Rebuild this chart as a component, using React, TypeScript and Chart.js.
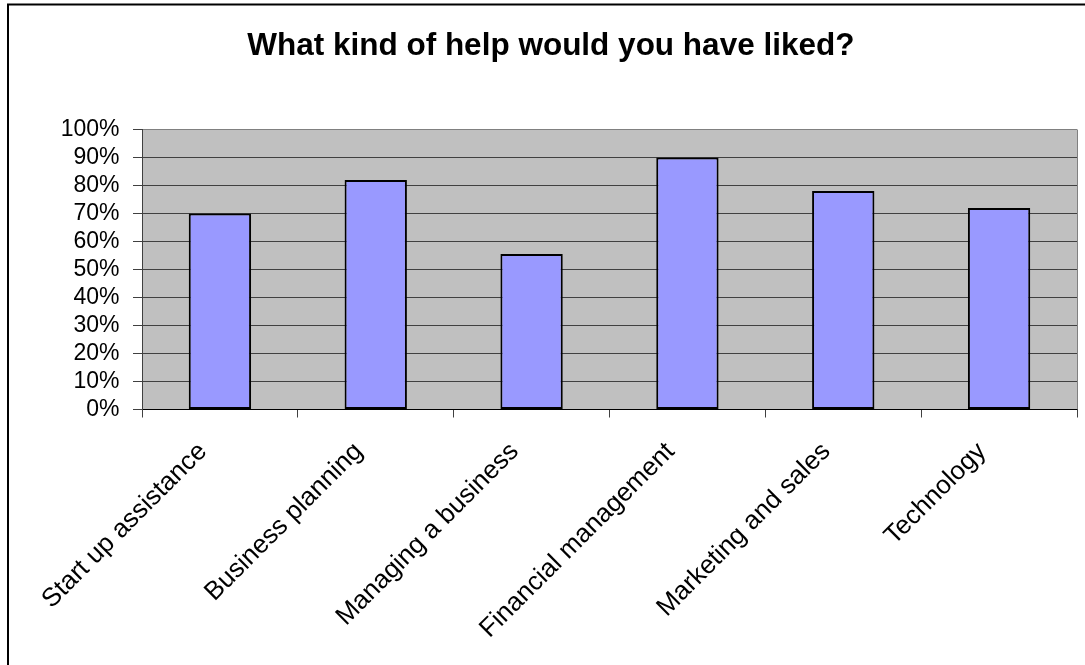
import React, { useEffect, useRef } from 'react';
import { Chart, registerables } from 'chart.js';

Chart.register(...registerables);

const TITLE = 'What kind of help would you have liked?';
const categories = [
  'Start up assistance',
  'Business planning',
  'Managing a business',
  'Financial management',
  'Marketing and sales',
  'Technology',
];
const values = [0.7, 0.82, 0.555, 0.9, 0.78, 0.72];
const yTickLabels = ['0%', '10%', '20%', '30%', '40%', '50%', '60%', '70%', '80%', '90%', '100%'];

const W = 1085;
const H = 665;
const PAD_LEFT = 24.6;
const PAD_RIGHT = 8;
const PLOT_LEFT = 142;
const PLOT_BOTTOM = 409.5;
const FONT = '"Liberation Sans", Arial, sans-serif';

const framePlugin = {
  id: 'frame',
  beforeDraw(chart: any) {
    const { ctx, chartArea: a } = chart;
    ctx.save();
    ctx.fillStyle = '#ffffff';
    ctx.fillRect(0, 0, chart.width, chart.height);
    ctx.fillStyle = '#C0C0C0';
    ctx.fillRect(a.left, a.top, a.right - a.left, a.bottom - a.top);
    ctx.strokeStyle = '#000000';
    ctx.lineWidth = 2;
    ctx.strokeRect(8, 4.5, chart.width + 100, chart.height + 100);
    ctx.restore();
  },
  beforeDatasetsDraw(chart: any) {
    const { ctx, chartArea: a } = chart;
    ctx.save();
    ctx.strokeStyle = '#808080';
    ctx.lineWidth = 1;
    ctx.beginPath();
    const x = Math.round(a.right) + 0.5;
    ctx.moveTo(x, a.top);
    ctx.lineTo(x, a.bottom);
    ctx.stroke();
    ctx.restore();
  },
};

export default function App() {
  const ref = useRef<HTMLCanvasElement | null>(null);

  useEffect(() => {
    if (!ref.current) return;
    const chart = new Chart(ref.current, {
      type: 'bar',
      data: {
        labels: categories,
        datasets: [
          {
            data: values,
            backgroundColor: '#9999FF',
            borderColor: '#000000',
            borderWidth: 2,
            borderSkipped: false,
            barPercentage: 0.4,
            categoryPercentage: 1.0,
          },
        ],
      },
      options: {
        responsive: false,
        animation: false,
        layout: { padding: { left: PAD_LEFT, right: PAD_RIGHT, top: 0, bottom: 0 } },
        plugins: {
          legend: { display: false },
          tooltip: { enabled: false },
          title: {
            display: true,
            text: TITLE,
            color: '#000000',
            font: { family: FONT, size: 31.5, weight: 'bold' },
            padding: { top: 27.4, bottom: 64.3 },
          },
        },
        scales: {
          x: {
            afterFit: (s: any) => {
              s.height = H - PLOT_BOTTOM;
            },
            ticks: {
              color: '#000000',
              font: { family: FONT, size: 26 },
              minRotation: 45,
              maxRotation: 45,
              autoSkip: false,
              padding: 19,
              labelOffset: -17,
            },
            grid: {
              offset: true,
              drawOnChartArea: false,
              drawTicks: true,
              tickLength: 8,
              color: '#404040',
            },
            border: { color: '#000000', width: 1 },
          },
          y: {
            min: 0,
            max: 1,
            afterFit: (s: any) => {
              s.width = PLOT_LEFT - PAD_LEFT;
            },
            ticks: {
              stepSize: 0.1,
              autoSkip: false,
              color: '#000000',
              font: { family: FONT, size: 23 },
              padding: 13.5,
              callback: (_v: any, i: number) => yTickLabels[i],
            },
            grid: {
              color: (c: any) => (c.index === 10 ? '#808080' : '#404040'),
              tickColor: '#404040',
              tickLength: 9,
              lineWidth: 1,
            },
            border: { color: '#404040', width: 1 },
          },
        },
      },
      plugins: [framePlugin],
    } as any);
    return () => chart.destroy();
  }, []);

  return (
    <div style={{ position: 'fixed', left: 0, top: 0, width: W, height: H, background: '#fff' }}>
      <canvas ref={ref} width={W} height={H} style={{ display: 'block', width: W, height: H }} />
    </div>
  );
}
